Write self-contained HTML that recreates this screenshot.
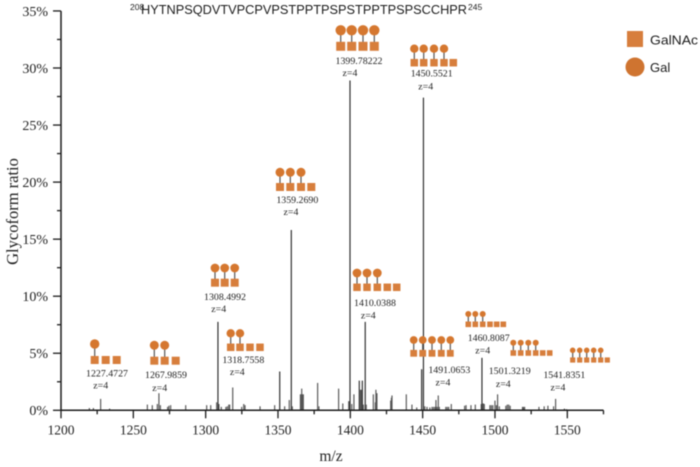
<!DOCTYPE html>
<html>
<head>
<meta charset="utf-8">
<style>
html,body{margin:0;padding:0;background:#fff;width:700px;height:467px;overflow:hidden}
svg{display:block;filter:blur(0.4px)}
.serif{font-family:"Liberation Serif",serif;fill:#222}
.sans{font-family:"Liberation Sans",sans-serif;fill:#1c1c1c}
.lbl{font-size:9.9px;text-anchor:middle}
.tick{font-size:14px}
</style>
</head>
<body>
<svg id="chart" width="700" height="467" viewBox="0 0 700 467" xmlns="http://www.w3.org/2000/svg">
  <g id="peaks"></g>
  <g id="axes"></g>
  <g id="glycans"></g>

  <text class="sans" x="130" y="10" font-size="8.5">208</text>
  <text class="sans" x="141" y="14" font-size="12.5" textLength="326" lengthAdjust="spacingAndGlyphs">HYTNPSQDVTVPCPVPSTPPTPSPSTPPTPSPSCCHPR</text>
  <text class="sans" x="468" y="10" font-size="8.5">245</text>

  <text class="serif" transform="translate(18,211.5) rotate(-90)" text-anchor="middle" font-size="16.5">Glycoform ratio</text>
  <text class="serif" x="331" y="461" text-anchor="middle" font-size="15.5">m/z</text>

  <rect x="627" y="31" width="16" height="16" fill="#d77e3c"/>
  <text class="sans" x="650" y="44.5" font-size="13" textLength="48" lengthAdjust="spacingAndGlyphs">GalNAc</text>
  <circle cx="635" cy="67" r="9.5" fill="#cf7430"/>
  <text class="sans" x="650" y="72" font-size="13">Gal</text>

  <g>
    <text class="serif lbl" x="107" y="376.5">1227.4727</text>
    <text class="serif lbl" x="100.7" y="388.5">z=4</text>
    <text class="serif lbl" x="166" y="378">1267.9859</text>
    <text class="serif lbl" x="159.7" y="390.8">z=4</text>
    <text class="serif lbl" x="225" y="299.8">1308.4992</text>
    <text class="serif lbl" x="218.7" y="312">z=4</text>
    <text class="serif lbl" x="243.3" y="362.8">1318.7558</text>
    <text class="serif lbl" x="237.3" y="375">z=4</text>
    <text class="serif lbl" x="297.3" y="202.8">1359.2690</text>
    <text class="serif lbl" x="291" y="215">z=4</text>
    <text class="serif lbl" x="359" y="63.8">1399.78222</text>
    <text class="serif lbl" x="350" y="75.8">z=4</text>
    <text class="serif lbl" x="375" y="305.8">1410.0388</text>
    <text class="serif lbl" x="368.3" y="318.5">z=4</text>
    <text class="serif lbl" x="431.7" y="76.5">1450.5521</text>
    <text class="serif lbl" x="425.7" y="89.5">z=4</text>
    <text class="serif lbl" x="488.7" y="341">1460.8087</text>
    <text class="serif lbl" x="482.7" y="353.5">z=4</text>
    <text class="serif lbl" x="449.3" y="372.8">1491.0653</text>
    <text class="serif lbl" x="443" y="385.5">z=4</text>
    <text class="serif lbl" x="509.7" y="374.2">1501.3219</text>
    <text class="serif lbl" x="503.3" y="386.8">z=4</text>
    <text class="serif lbl" x="564.3" y="377.8">1541.8351</text>
    <text class="serif lbl" x="558" y="390.5">z=4</text>
  </g>
</svg>
<script>
var xTickValues = [1200, 1250, 1300, 1350, 1400, 1450, 1500, 1550];
var xMinorValues = [1225, 1275, 1325, 1375, 1425, 1475, 1525, 1575];
var yTickValues = [0, 5, 10, 15, 20, 25, 30, 35];
var yMinorValues = [2.5, 7.5, 12.5, 17.5, 22.5, 27.5, 32.5];
var peakMz = [1219.6,1222.4,1227.4,1233.6,1259.7,1263.1,1266.6,1267.7,1268.7,1273.7,1274.6,1275.8,1286.2,1300.7,1303.5,1307.6,1308.5,1309.2,1310.8,1314,1315,1316,1316.6,1318.7,1324.9,1326.3,1327.2,1337.6,1347.7,1351.2,1354.6,1357.8,1359.2,1359.9,1365.5,1366,1366.4,1367,1367.5,1377.4,1378.3,1391.9,1394.8,1398.9,1399.4,1399.78,1401,1402.5,1406.2,1407,1407.6,1408.3,1409,1410.3,1411,1415.9,1417.3,1417.7,1418.4,1427.9,1428.4,1428.8,1438.7,1442.6,1445.9,1449.3,1450.55,1451.5,1453,1455,1456.5,1457.5,1458.5,1459.2,1460,1460.8,1461.5,1466,1467,1468,1469.8,1479,1480,1483.4,1486.4,1490.5,1491,1491.5,1492,1492.6,1496.5,1497.5,1498.5,1500,1501,1501.8,1503,1507.5,1508.5,1509.5,1510.5,1519,1519.7,1520.5,1530.4,1534,1536.6,1540.5,1541.9,1548,1549.5,1560,1562];
var peakRatio = [0.2,0.2,1.0,0.15,0.5,0.45,0.55,1.5,0.45,0.3,0.4,0.45,0.45,0.45,0.45,0.7,7.75,0.55,0.3,0.3,0.35,0.5,0.5,2.0,0.3,0.55,0.45,0.35,0.45,3.4,0.35,0.9,15.8,0.35,1.4,1.4,1.9,1.4,1.4,2.4,0.35,1.9,0.6,0.8,0.8,28.9,0.55,1.4,2.6,1.8,1.8,2.6,0.5,7.75,0.5,1.4,0.7,1.8,1.5,0.85,1.1,1.3,1.4,0.5,0.25,3.6,27.4,0.35,0.3,0.25,0.3,0.3,0.3,0.9,0.3,1.3,0.3,0.3,0.3,0.3,0.55,0.4,0.45,0.45,0.5,0.55,4.6,0.6,0.6,0.55,0.45,0.45,0.45,0.85,0.45,1.4,0.35,0.4,0.5,0.5,0.4,0.3,0.3,0.3,0.3,0.35,0.4,0.35,1.0,0.15,0.1,0.05,0.05];

var svgNS = 'http://www.w3.org/2000/svg';
function xScale(mz) { return 61 + (mz - 1200) * 1.4466; }
function yScale(v) { return 410.3 - v * 11.41; }

function makeLine(parent, x1, y1, x2, y2, stroke, width) {
  var el = document.createElementNS(svgNS, 'line');
  el.setAttribute('x1', x1);
  el.setAttribute('y1', y1);
  el.setAttribute('x2', x2);
  el.setAttribute('y2', y2);
  el.setAttribute('stroke', stroke);
  el.setAttribute('stroke-width', width);
  parent.appendChild(el);
  return el;
}

var peaksGroup = document.getElementById('peaks');
peakMz.forEach(function (mz, i) {
  var v = peakRatio[i];
  var el = makeLine(peaksGroup, xScale(mz), yScale(0), xScale(mz), yScale(v), v >= 2.5 ? '#2a2a2a' : '#555', v >= 2.5 ? 1.15 : 1.15);
  
  
});

var axesGroup = document.getElementById('axes');
var xAxisLine = makeLine(axesGroup, xScale(1200), yScale(0), xScale(1575), yScale(0), '#1c1c1c', 1.5);


var yAxisLine = makeLine(axesGroup, xScale(1200), yScale(0), xScale(1200), yScale(35), '#1c1c1c', 1.5);



function makeTickLabel(text, x, y, anchor, size) {
  var t = document.createElementNS(svgNS, 'text');
  t.setAttribute('class', 'serif');
  t.setAttribute('x', x);
  t.setAttribute('y', y);
  t.setAttribute('text-anchor', anchor);
  t.setAttribute('font-size', size);
  t.textContent = text;
  axesGroup.appendChild(t);
  return t;
}

xTickValues.forEach(function (v) {
  var tick = makeLine(axesGroup, xScale(v), yScale(0), xScale(v), yScale(0) + 8, '#1c1c1c', 1.3);
  
  
  var label = makeTickLabel(String(v), xScale(v), 434.5, 'middle', 13.5);
  
  
});
xMinorValues.forEach(function (v) {
  var tick = makeLine(axesGroup, xScale(v), yScale(0), xScale(v), yScale(0) + 4, '#1c1c1c', 1.3);
  
  
});
yTickValues.forEach(function (v) {
  var tick = makeLine(axesGroup, xScale(1200) - 8, yScale(v), xScale(1200), yScale(v), '#1c1c1c', 1.3);
  
  
  var label = makeTickLabel(v + '%', 48, yScale(v) + 4.8, 'end', 14);
  
  
});
yMinorValues.forEach(function (v) {
  var tick = makeLine(axesGroup, xScale(1200) - 4, yScale(v), xScale(1200), yScale(v), '#1c1c1c', 1.3);
  
  
});

var glycanGroup = document.getElementById('glycans');
function drawGlycan(name, squareXs, galCount, circleY, squareY, r, size) {
  var g = document.createElementNS(svgNS, 'g');
  
  
  glycanGroup.appendChild(g);
  squareXs.forEach(function (x, i) {
    if (i < galCount) {
      makeLine(g, x, circleY, x, squareY, '#555', 1.2);
    }
    var s = document.createElementNS(svgNS, 'rect');
    s.setAttribute('x', x - size / 2);
    s.setAttribute('y', squareY - size / 2);
    s.setAttribute('width', size);
    s.setAttribute('height', size);
    s.setAttribute('fill', '#d77e3c');
    g.appendChild(s);
    if (i < galCount) {
      var c = document.createElementNS(svgNS, 'circle');
      c.setAttribute('cx', x);
      c.setAttribute('cy', circleY);
      c.setAttribute('r', r);
      c.setAttribute('fill', '#d5772f');
      g.appendChild(c);
    }
  });
}
drawGlycan('glycan-1227', [94.7, 105.7, 116.7], 1, 344, 360, 4.7, 8);
drawGlycan('glycan-1267', [154.3, 164.7, 175.7], 2, 345.3, 360.7, 4.5, 8);
drawGlycan('glycan-1308', [215, 224.7, 234.7], 3, 268, 282.7, 4.4, 8);
drawGlycan('glycan-1318', [230.7, 240, 250, 260], 2, 333.3, 347.3, 4.2, 7.5);
drawGlycan('glycan-1359', [280, 290.3, 301, 311.3], 3, 172.3, 187, 4.5, 8);
drawGlycan('glycan-1399', [340.7, 351.7, 363, 374.3], 4, 30.3, 46.3, 5.2, 9);
drawGlycan('glycan-1410', [357, 367, 377.3, 387.3, 396.7], 3, 273, 287.3, 4.4, 7.5);
drawGlycan('glycan-1450', [414.3, 423.7, 434, 444, 453.3], 4, 48.7, 62.7, 4.2, 7.5);
drawGlycan('glycan-1491', [413.7, 422.7, 432, 441.3, 450.3], 5, 340, 353.3, 3.9, 6.8);
drawGlycan('glycan-1460', [468.3, 475.3, 482.7, 490, 496.7, 503.3], 3, 314, 324.3, 3, 5.6);
drawGlycan('glycan-1501', [513.3, 520.7, 528.3, 535.7, 542.7, 549.7], 4, 342.7, 353, 3, 5.6);
drawGlycan('glycan-1541', [572.7, 579.7, 586.7, 593.7, 600.7, 607.3], 5, 350.3, 360, 2.8, 5.2);
</script>
</body>
</html>
